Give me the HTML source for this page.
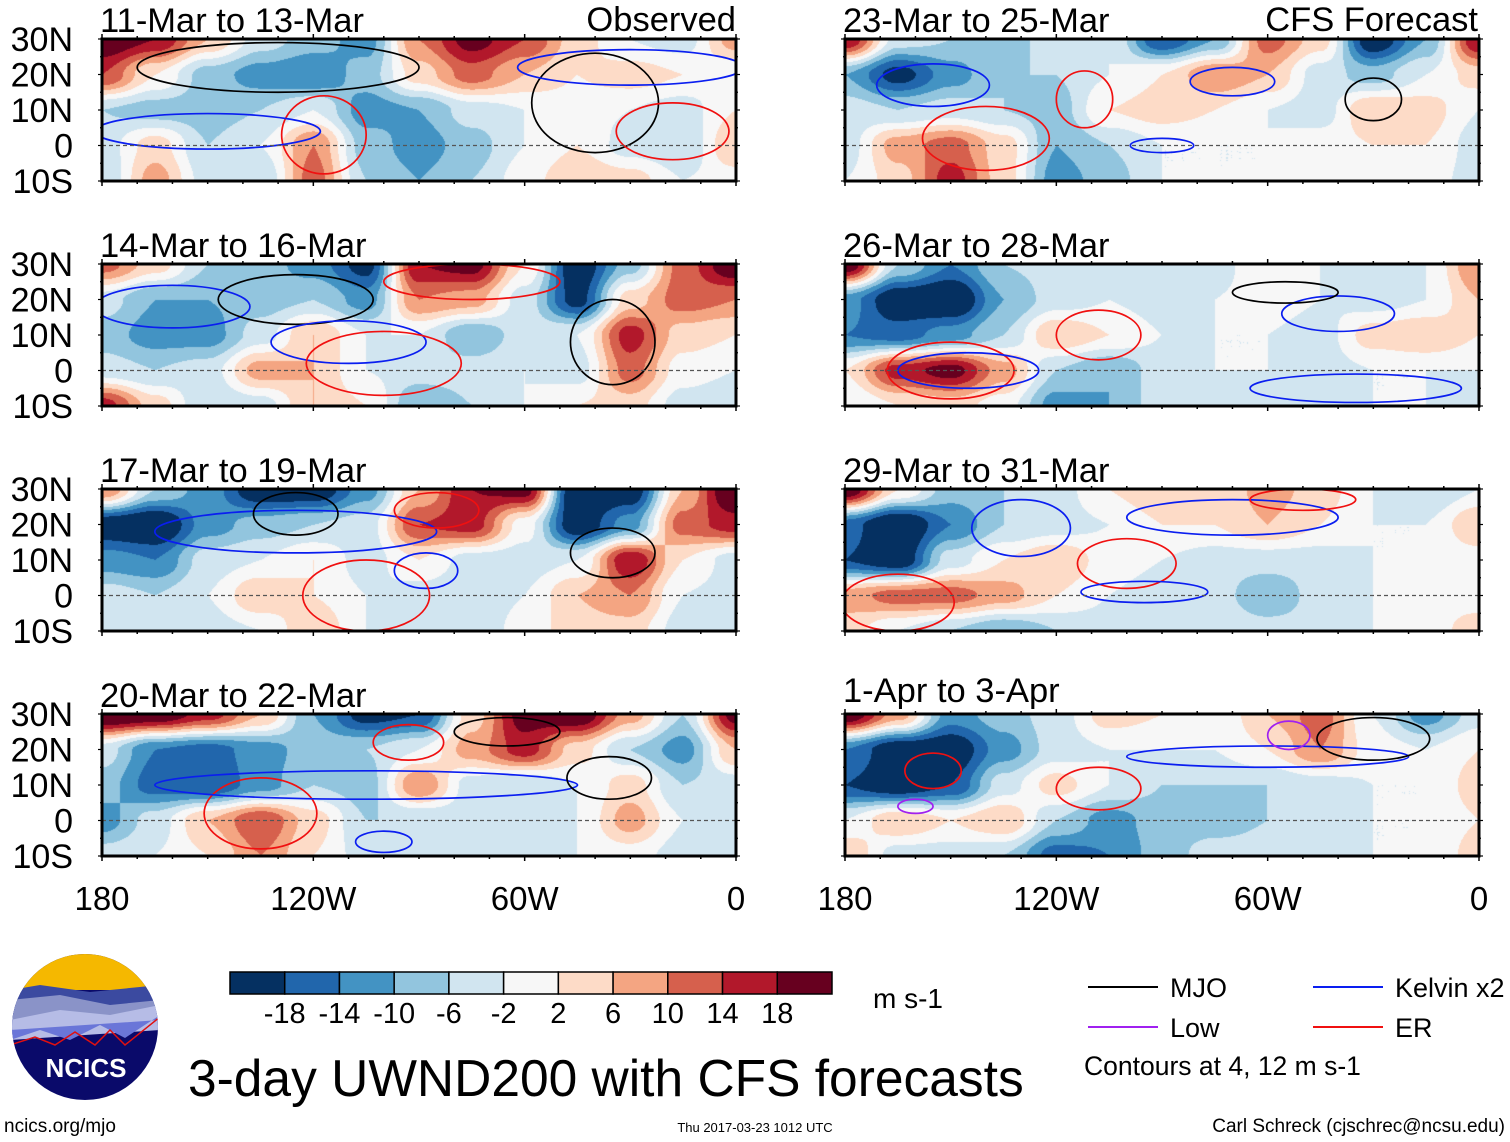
<!DOCTYPE html>
<html><head><meta charset="utf-8">
<style>
body{margin:0;background:#fff;}
#root{position:relative;width:1510px;height:1142px;overflow:hidden;font-family:"Liberation Sans",sans-serif;}
canvas{position:absolute;}
svg{position:absolute;left:0;top:0;}
</style></head>
<body>
<div id="root">
<svg id="ov" width="1510" height="1142"></svg>
</div>
<script>
// Grid: longitudes 180W..0 every 15 deg (13 cols), latitudes 30N,20N,10N,0,10S (5 rows)
const lonTicks = ["180","120W","60W","0"];
const latTicks = ["30N","20N","10N","0","10S"];
const panelTitles = ["11-Mar to 13-Mar","14-Mar to 16-Mar","17-Mar to 19-Mar","20-Mar to 22-Mar","23-Mar to 25-Mar","26-Mar to 28-Mar","29-Mar to 31-Mar","1-Apr to 3-Apr"];
const levelBounds = [-18,-14,-10,-6,-2,2,6,10,14,18];
const levelColors = ["#053061","#2166ac","#4393c3","#92c5de","#d1e5f0","#f7f7f7","#fddbc7","#f4a582","#d6604d","#b2182b","#67001f"];
const field1 = [[22,18,6,-4,-8,-12,10,20,14,4,-2,-4,8],[14,2,-8,-12,-14,-8,4,12,6,2,4,2,-2],[-6,-8,-8,-6,-2,-12,-10,-4,-2,0,-2,-4,2],[-4,4,-6,-2,10,-8,-12,-8,-2,2,-4,-6,6],[-6,8,-4,-6,12,-6,-10,-6,0,6,4,-2,0]];
const field2 = [[12,4,-6,-8,-12,-20,18,20,2,-22,-8,12,22],[-4,-10,-10,-8,-6,-12,10,8,-4,-20,4,12,10],[-8,-12,-12,-4,6,-2,-2,-10,-4,-2,16,4,2],[-4,-6,-4,8,6,-2,-4,-4,-2,-4,12,0,-2],[16,4,-6,-4,6,2,-10,-6,-2,2,4,-4,-6]];
const field3 = [[10,-6,-12,-22,-22,-12,6,18,20,-24,-22,6,24],[-22,-24,-12,-8,-6,-4,14,16,0,-22,-12,12,16],[-12,-14,-4,-2,2,-4,2,-4,-4,-2,18,2,-4],[-4,-6,-2,6,2,-2,-4,-6,-2,6,10,-2,-4],[-4,-6,-4,-2,6,-2,-4,-6,0,4,4,-4,-6]];
const field4 = [[24,22,16,6,-10,-20,-18,4,20,22,8,-6,20],[-4,-14,-16,-12,-8,-6,-2,8,16,4,-6,-12,6],[-8,-16,-18,-12,-6,-8,10,-4,-6,-2,4,-6,-4],[-12,-4,6,14,4,-6,-6,-4,-4,-2,8,-2,-6],[-4,-2,2,10,2,-4,-4,-4,-6,-2,0,-4,-6]];
const field5 = [[18,-4,-6,-8,-4,-2,-18,-10,12,4,-22,-10,18],[-10,-20,-12,-6,-6,-2,2,10,6,-4,-8,-2,4],[-4,-6,-4,-6,-8,2,4,2,-2,-4,6,4,-2],[-4,8,12,4,-10,-6,-2,-2,-2,0,2,2,-4],[-2,4,16,4,-12,-8,-2,-2,-2,0,2,0,-4]];
const field6 = [[22,-6,-14,-6,-4,-6,-4,-4,2,-2,-6,-2,10],[-12,-22,-24,-10,-4,-2,-4,-2,0,-2,-4,-2,6],[-14,-16,-12,-6,6,2,-2,-2,-2,-4,4,6,2],[2,16,20,8,-6,-10,-4,-2,-2,-4,-2,-2,-2],[-2,2,4,0,-12,-10,-4,-2,-4,-4,-2,-2,-4]];
const field7 = [[22,2,-8,-6,-4,2,6,2,8,4,-2,-6,-2],[-16,-24,-14,-6,-4,-2,2,2,6,2,-2,-2,6],[-18,-22,-4,2,6,0,-2,-4,-4,-4,-2,-2,0],[8,12,12,8,2,-2,-4,-4,-10,-4,-2,0,0],[4,-2,-6,-10,-6,-4,-2,-2,-4,-4,-2,0,4]];
const field8 = [[22,8,-12,-8,-4,4,2,-2,6,12,-2,-12,-4],[-14,-22,-22,-12,-4,-2,-2,-2,2,10,0,-2,2],[-18,-22,-18,-4,4,-2,-6,-6,-6,-4,-2,-2,4],[-2,6,2,6,-6,-12,-8,-8,-6,-4,-2,-2,2],[6,-4,-4,-6,-16,-14,-8,-4,-4,-4,-2,-2,4]];
const fields = [field1,field2,field3,field4,field5,field6,field7,field8];
// contour ellipses: [type, lonW center, lat center, lon radius, lat radius]
const contours1 = [["er",117,3,12,11],["mjo",40,12,18,14],["kel",150,4,32,5],["er",18,4,16,8],["kel",30,22,32,5],["mjo",130,22,40,7]];
const contours2 = [["kel",160,18,22,6],["mjo",125,20,22,7],["kel",110,8,22,6],["mjo",35,8,12,12],["er",100,2,22,9],["er",75,25,25,5]];
const contours3 = [["kel",125,18,40,6],["mjo",35,12,12,7],["kel",88,7,9,5],["er",105,0,18,10],["mjo",125,23,12,6],["er",85,24,12,5]];
const contours4 = [["er",135,2,16,10],["kel",105,10,60,4],["mjo",36,12,12,6],["mjo",65,25,15,4],["er",93,22,10,5],["kel",100,-6,8,3]];
const contours5 = [["er",140,2,18,9],["kel",155,17,16,6],["er",112,13,8,8],["mjo",30,13,8,6],["kel",70,18,12,4],["kel",90,0,9,2]];
const contours6 = [["er",150,0,18,8],["kel",145,0,20,5],["er",108,10,12,7],["kel",40,16,16,5],["kel",35,-5,30,4],["mjo",55,22,15,3]];
const contours7 = [["er",165,-2,16,8],["er",100,9,14,7],["kel",95,1,18,3],["kel",130,19,14,8],["kel",70,22,30,5],["er",50,27,15,3]];
const contours8 = [["er",108,9,12,6],["er",155,14,8,5],["kel",60,18,40,3],["mjo",30,23,16,6],["low",54,24,6,4],["low",160,4,5,2]];
const contours = [contours1,contours2,contours3,contours4,contours5,contours6,contours7,contours8];
const lineColors = {mjo:"#000000",kel:"#0a1ef0",er:"#f01010",low:"#a020f0"};

const NS="http://www.w3.org/2000/svg";
const ov=document.getElementById('ov');
const root=document.getElementById('root');
function el(tag,attrs,parent){const e=document.createElementNS(NS,tag);for(const k in attrs)e.setAttribute(k,attrs[k]);(parent||ov).appendChild(e);return e;}
const colX=[102,845], rowY=[39,264,489,714], PW=634, PH=142;
function xScale(px,lonW){return px+(180-lonW)/180*PW;}
function yScale(py,lat){return py+(30-lat)/40*PH;}
function hex(c){return [parseInt(c.substr(1,2),16),parseInt(c.substr(3,2),16),parseInt(c.substr(5,2),16)];}
const rgbLevels=levelColors.map(hex);
function sample(f,u,v){
  const i=Math.min(11,Math.floor(u)),j=Math.min(3,Math.floor(v));
  let a=u-i,b=v-j; a=(1-Math.cos(a*Math.PI))/2; b=(1-Math.cos(b*Math.PI))/2;
  return f[j][i]*(1-a)*(1-b)+f[j][i+1]*a*(1-b)+f[j+1][i]*(1-a)*b+f[j+1][i+1]*a*b;
}
const defs=el('defs',{});
for(let p=0;p<8;p++){
  const px=colX[p<4?0:1], py=rowY[p%4];
  const cv=document.createElement('canvas');
  cv.width=PW;cv.height=PH;cv.style.left=px+'px';cv.style.top=py+'px';
  
  
  root.insertBefore(cv,ov);
  const ctx=cv.getContext('2d');const img=ctx.createImageData(PW,PH);
  const f=fields[p];
  for(let y=0;y<PH;y++)for(let x=0;x<PW;x++){
    const val=sample(f,x/(PW-1)*12,y/(PH-1)*4);
    let i=0;while(i<levelBounds.length&&val>=levelBounds[i])i++;
    const c=rgbLevels[i];const o=(y*PW+x)*4;
    img.data[o]=c[0];img.data[o+1]=c[1];img.data[o+2]=c[2];img.data[o+3]=255;
  }
  ctx.putImageData(img,0,0);
  const cp=el('clipPath',{id:'cp'+p},defs);
  el('rect',{x:px,y:py,width:PW,height:PH},cp);
  const g=el('g',{});
  
  
  const cs=contours[p];
  for(const c of cs){
    const e=el('ellipse',{cx:xScale(px,c[1]),cy:yScale(py,c[2]),rx:c[3]/180*PW,ry:c[4]/40*PH,fill:'none',stroke:lineColors[c[0]],'stroke-width':1.7,'clip-path':'url(#cp'+p+')'},g);
    
    
  }
  const eq=el('line',{x1:px,x2:px+PW,y1:yScale(py,0),y2:yScale(py,0),stroke:'#555','stroke-width':1.2,'stroke-dasharray':'4,3'},g);
  
  
  for(let lon=180;lon>=0;lon-=10){
    const major=(lon%60===0);
    const tx=xScale(px,lon);
    el('line',{x1:tx,x2:tx,y1:py+PH,y2:py+PH+(major?5:3),stroke:'#000','stroke-width':1.5},g);
    el('line',{x1:tx,x2:tx,y1:py,y2:py-(major?5:3),stroke:'#000','stroke-width':1.5},g);
  }
  for(let lat=30;lat>=-10;lat-=5){
    const ty=yScale(py,lat);
    el('line',{x1:px,x2:px-(lat%10===0?4:2),y1:ty,y2:ty,stroke:'#000','stroke-width':1.2},g);
    el('line',{x1:px+PW,x2:px+PW+(lat%10===0?4:2),y1:ty,y2:ty,stroke:'#000','stroke-width':1.2},g);
  }
  const t=el('text',{x:px-2,y:py-7+(p===7?-5:0),'font-size':34.5,fill:'#000'},g);
  t.textContent=panelTitles[p];
  
  
  if(p<4){
    latTicks.forEach((lab,k)=>{
      const tt=el('text',{x:73,y:yScale(py,30-10*k)+12,'font-size':34,'text-anchor':'end',fill:'#000'},g);
      tt.textContent=lab;
      
      
    });
  }
  const fr=el('rect',{x:px,y:py,width:PW,height:PH,fill:'none',stroke:'#000','stroke-width':3},g);
  
  
}
[0,1].forEach(c=>{
  lonTicks.forEach((lab,k)=>{
    const t=el('text',{x:xScale(colX[c],180-60*k),y:910,'font-size':33,'text-anchor':'middle',fill:'#000'});
    t.textContent=lab;
    
    
  });
});
let tt=el('text',{x:736,y:31,'font-size':34.5,'text-anchor':'end'});tt.textContent='Observed';


tt=el('text',{x:1478,y:31,'font-size':34.5,'text-anchor':'end'});tt.textContent='CFS Forecast';


const cbX=230,cbW=602,cbY=972,cbH=22,bw=cbW/11;
levelColors.forEach((col,i)=>{
  const r=el('rect',{x:cbX+i*bw,y:cbY,width:bw,height:cbH,fill:col,stroke:'#000','stroke-width':1.5});
  
  
});
levelBounds.forEach((b,i)=>{
  const t=el('text',{x:cbX+(i+1)*bw,y:1023,'font-size':29,'text-anchor':'middle'});
  t.textContent=String(b);
  
  
});
tt=el('text',{x:873,y:1008,'font-size':28});tt.textContent='m s-1';


const legendItems=[["MJO","#000",1088,987],["Kelvin x2","#0a1ef0",1313,987],["Low","#a020f0",1088,1027],["ER","#f01010",1313,1027]];
legendItems.forEach(it=>{
  const l=el('line',{x1:it[2],x2:it[2]+70,y1:it[3],y2:it[3],stroke:it[1],'stroke-width':2});
  
  
  const t=el('text',{x:it[2]+82,y:it[3]+10,'font-size':27});t.textContent=it[0];
  
  
});
tt=el('text',{x:1084,y:1075,'font-size':26.5});tt.textContent='Contours at 4, 12 m s-1';


tt=el('text',{x:188,y:1096,'font-size':51.5});tt.textContent='3-day UWND200 with CFS forecasts';


tt=el('text',{x:4,y:1132,'font-size':19});tt.textContent='ncics.org/mjo';


tt=el('text',{x:755,y:1132,'font-size':13,'text-anchor':'middle'});tt.textContent='Thu 2017-03-23 1012 UTC';


tt=el('text',{x:1505,y:1132,'font-size':19,'text-anchor':'end'});tt.textContent='Carl Schreck (cjschrec@ncsu.edu)';


const lg=el('g',{});


const cpl=el('clipPath',{id:'logoclip'},defs);
el('circle',{cx:85,cy:1027,r:73},cpl);
const lgi=el('g',{'clip-path':'url(#logoclip)'},lg);
el('rect',{x:10,y:950,width:150,height:160,fill:'#0a0a6a'},lgi);
el('rect',{x:10,y:950,width:150,height:40,fill:'#f5b800'},lgi);
el('path',{d:'M10 990 L40 985 L90 992 L160 985 L160 1020 L10 1030 Z',fill:'#3b4aa0'},lgi);
el('path',{d:'M10 1000 L60 995 L110 1005 L160 1000 L160 1020 L10 1030 Z',fill:'#8a93c8'},lgi);
el('path',{d:'M10 1020 L60 1010 L110 1015 L160 1005 L160 1030 L10 1040 Z',fill:'#b6bce6'},lgi);
el('path',{d:'M10 1040 L40 1030 L70 1040 L100 1025 L125 1038 L160 1015 L160 1020 L10 1030 Z',fill:'#6a76d8'},lgi);
el('path',{d:'M10 1045 L35 1037 L55 1045 L75 1032 L95 1045 L110 1030 L125 1045 L160 1017',fill:'none',stroke:'#e01010','stroke-width':1.5},lgi);
tt=el('text',{x:86,y:1077,'font-size':26,'font-weight':'bold','text-anchor':'middle',fill:'#fff'},lg);tt.textContent='NCICS';


</script>
</body></html>
